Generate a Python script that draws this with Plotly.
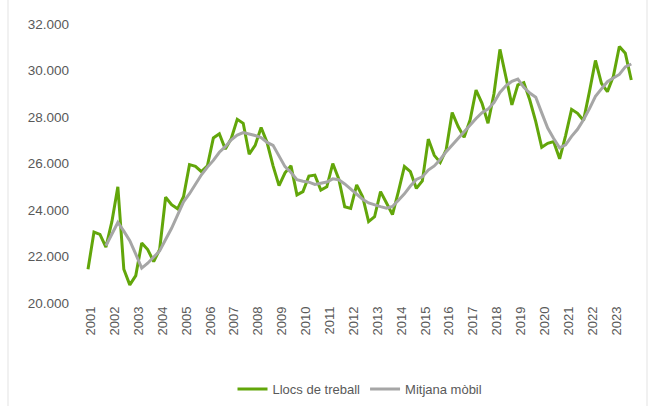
import plotly.graph_objects as go

years = [str(y) for y in range(2001, 2024)]
periods = [f"{y}T{q}" for y in range(2001, 2024) for q in range(1, 5)]

llocs_treball = [
    21450, 23050, 22950, 22400,
    23500, 25000, 21450, 20780,
    21180, 22580, 22300, 21780,
    22300, 24550, 24230, 24050,
    24570, 25950, 25880, 25650,
    25900, 27100, 27280, 26620,
    27080, 27900, 27730, 26400,
    26780, 27550, 26900, 25900,
    25050, 25600, 25900, 24650,
    24790, 25460, 25500, 24860,
    25000, 26000, 25340, 24140,
    24070, 25080, 24570, 23500,
    23710, 24790, 24300, 23800,
    24800, 25870, 25650, 24930,
    25250, 27050, 26350, 26040,
    26600, 28190, 27590, 27130,
    27870, 29160, 28590, 27730,
    29000, 30910, 29720, 28520,
    29380, 29480, 28730, 27800,
    26700, 26870, 26940, 26200,
    27200, 28330, 28160, 27850,
    29100, 30430, 29450, 29090,
    29750, 31030, 30740, 29590,
]

mitjana_mobil = [
    None, None, None, 22463,
    22975, 23463, 23088, 22683,
    22103, 21498, 21710, 21960,
    22240, 22733, 23215, 23783,
    24350, 24700, 25113, 25513,
    25845, 26133, 26483, 26725,
    27020, 27220, 27333, 27278,
    27203, 27115, 26908, 26783,
    26350, 25863, 25613, 25300,
    25235, 25200, 25100, 25153,
    25205, 25340, 25300, 25120,
    24888, 24658, 24465, 24305,
    24215, 24143, 24075, 24150,
    24423, 24693, 25030, 25313,
    25425, 25720, 25895, 26173,
    26510, 26795, 27105, 27378,
    27695, 27938, 28188, 28338,
    28620, 29058, 29340, 29538,
    29633, 29275, 29028, 28848,
    28178, 27525, 27078, 26678,
    26803, 27168, 27473, 27885,
    28360, 28885, 29208, 29518,
    29680, 29830, 30153, 30280,
]

y_ticks = [20000, 22000, 24000, 26000, 28000, 30000, 32000]

x = list(range(len(periods)))
font_family = "Liberation Sans, Arial, sans-serif"
tick_color = "#595959"

fig = go.Figure()
fig.add_trace(go.Scatter(
    x=x, y=llocs_treball, mode="lines", name="Llocs de treball",
    line=dict(color="#62a60a", width=3), customdata=periods,
))
fig.add_trace(go.Scatter(
    x=x, y=mitjana_mobil, mode="lines", name="Mitjana mòbil",
    line=dict(color="#a6a6a6", width=3), customdata=periods,
))

fig.update_layout(
    width=654, height=406,
    margin=dict(l=80, r=14, t=24, b=103),
    paper_bgcolor="white", plot_bgcolor="white",
    separators=",.",
    font=dict(family=font_family, size=13, color=tick_color),
    showlegend=True,
    legend=dict(orientation="h", x=0.5, xanchor="center",
                yref="container", y=1 - 389 / 406, yanchor="middle",
                font=dict(size=13, color=tick_color), itemwidth=30),
    xaxis=dict(
        range=[-1.34, 92.46], automargin=False,
        tickvals=[i * 4 + 0.5 for i in range(len(years))],
        ticktext=years, tickangle=-90,
        showgrid=False, zeroline=False, showline=False, ticks="",
        tickfont=dict(size=13, color=tick_color),
    ),
    yaxis=dict(
        range=[20000, 32000], tickvals=y_ticks, tickformat=",.0f", automargin=False,
        showgrid=False, zeroline=False, showline=False, ticks="",
        tickfont=dict(size=13.5, color=tick_color), ticklabelstandoff=10,
    ),
    shapes=[
        dict(type="line", xref="paper", yref="paper",
             x0=(8 - 80) / 560, x1=(8 - 80) / 560, y0=-103 / 279, y1=1 + 24 / 279,
             line=dict(color="#e3e3e3", width=1)),
        dict(type="line", xref="paper", yref="paper",
             x0=(647 - 80) / 560, x1=(647 - 80) / 560, y0=-103 / 279, y1=1 + 24 / 279,
             line=dict(color="#e3e3e3", width=1)),
    ],
)

fig.write_html("out.html", config={"displayModeBar": False},
               post_script="document.body.style.margin='0';")
